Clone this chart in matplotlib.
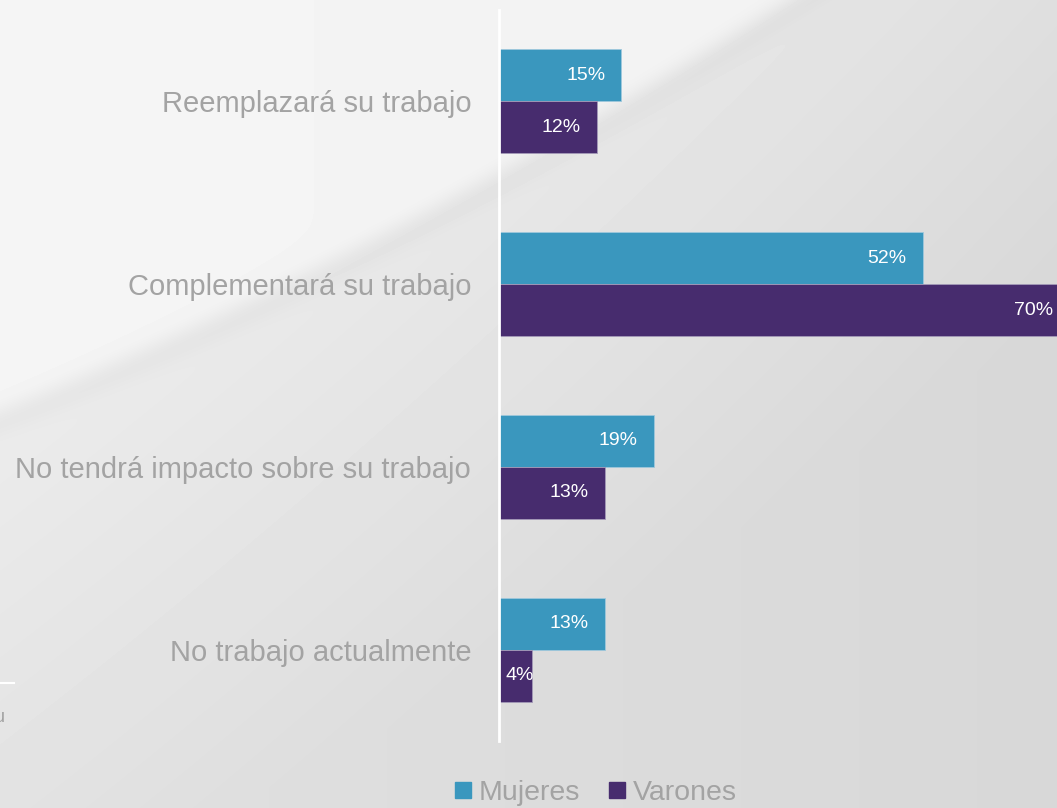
import matplotlib.pyplot as plt
import numpy as np
from matplotlib.lines import Line2D

plt.rcParams['font.family'] = ['Liberation Sans', 'DejaVu Sans']

categories = ["Reemplazará su trabajo", "Complementará su trabajo",
              "No tendrá impacto sobre su trabajo", "No trabajo actualmente"]
mujeres = [15, 52, 19, 13]
varones = [12, 70, 13, 4]
series_names = ["Mujeres", "Varones"]

c_muj = "#3a97be"
c_var = "#472c6e"
c_text = "#a3a3a3"

W, H = 1057, 808
fig = plt.figure(figsize=(W / 100, H / 100), dpi=100)

# background: light gray with a soft lighter swoosh in the upper left
bg = fig.add_axes([0, 0, 1, 1])
xx, yy = np.meshgrid(np.arange(W), np.arange(H))
curve = 405 - 0.40 * xx - 1.5e-4 * xx ** 2
dist = yy - curve
upper = 0.5 - 0.5 * np.tanh(dist / 12.0)
lower = 0.925 - 0.045 * np.clip(dist / 500.0, 0, 1) - 0.035 * (xx / W)
light = 0.96 - 0.01 * (xx / W)
val = lower * (1 - upper) + light * upper
val -= 0.02 * np.exp(-((dist - 18) / 14.0) ** 2)
bg.imshow(np.clip(val, 0, 1), cmap="gray", vmin=0, vmax=1, extent=[0, W, H, 0], aspect="auto")
bg.axis("off")

px = 8.15  # pixels per percent
ax = fig.add_axes([499 / W, 1 - 741 / H, 70 * px / W, 731 / H])
ax.patch.set_alpha(0)
y = np.arange(len(categories))
h = 0.285
ax.barh(y - h / 2, mujeres, height=h, color=c_muj, edgecolor="#9fc8dc", linewidth=0.6)
ax.barh(y + h / 2, varones, height=h, color=c_var, edgecolor="#a49ab8", linewidth=0.6)
ax.set_xlim(0, 70)
ax.set_ylim(3.5, -0.5)

for vals, off in ((mujeres, -h / 2), (varones, h / 2)):
    for i, v in enumerate(vals):
        if v < 6:
            ax.annotate(f"{v}%", (0, i + off), xytext=(6, 0), textcoords="offset pixels",
                        ha="left", va="center", color="white", fontsize=14)
        else:
            ax.annotate(f"{v}%", (v, i + off), xytext=(-16, 0), textcoords="offset pixels",
                        ha="right", va="center", color="white", fontsize=14)

ax.set_yticks(y)
ax.set_yticklabels(categories, fontsize=21, color=c_text)
ax.tick_params(axis="y", length=0, pad=20)
ax.set_xticks([])
for s in ("top", "right", "bottom"):
    ax.spines[s].set_visible(False)
ax.spines["left"].set_color("white")
ax.spines["left"].set_linewidth(2)

handles = [Line2D([], [], marker="s", linestyle="none", markersize=11, color=c)
           for c in (c_muj, c_var)]
fig.legend(handles, series_names, loc="center", bbox_to_anchor=(596 / W, 1 - 793 / H),
           ncol=2, frameon=False, fontsize=20.5, handlelength=0.6, handletextpad=0.25,
           columnspacing=1.0, labelcolor=c_text)

# leftover fragments at the left edge
fig.add_artist(Line2D([0, 14 / W], [1 - 683 / H, 1 - 683 / H], color="white", lw=1.5))
fig.text(-5 / W, 1 - 718 / H, "u", fontsize=13, color="#a0a0a0", va="center")

fig.savefig("out.png", dpi=100)
